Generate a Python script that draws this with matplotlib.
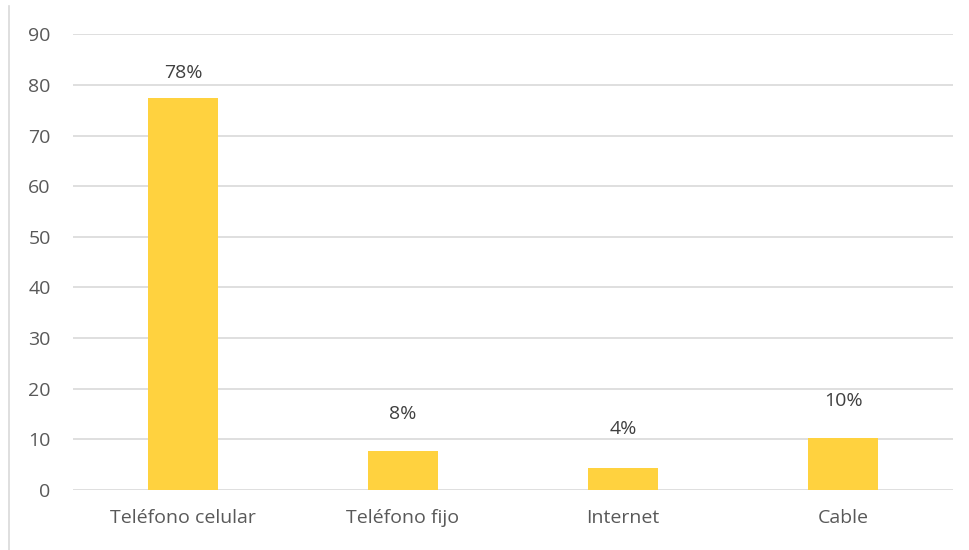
import matplotlib.pyplot as plt
import matplotlib.lines as mlines

# data
categories = ["Teléfono celular", "Teléfono fijo", "Internet", "Cable"]
values = [77.5, 7.6, 4.3, 10.2]
labels = ["78%", "8%", "4%", "10%"]
label_offsets = [18, 27, 28, 27]  # points above the bar top
yticks = [0, 10, 20, 30, 40, 50, 60, 70, 80, 90]

plt.rcParams['font.family'] = ['Open Sans', 'DejaVu Sans']

fig = plt.figure(figsize=(9.69, 5.5), dpi=100)
ax = fig.add_axes([0.0753, 0.1096, 0.9082, 0.828])

x = range(len(categories))
ax.bar(x, values, width=0.32, color="#FFD23F", zorder=3)

for i, (v, lab) in enumerate(zip(values, labels)):
    ax.annotate(lab, (i, v), xytext=(0, label_offsets[i]), textcoords="offset points",
                ha="center", va="center", fontsize=14, color="#404040")

ax.set_xlim(-0.5, len(categories) - 0.5)
ax.set_ylim(0, 90)
ax.set_yticks(yticks)
ax.set_xticks(list(x))
ax.set_xticklabels(categories)
ax.tick_params(axis="both", length=0, labelsize=14, colors="#595959")
ax.tick_params(axis="y", pad=16)
ax.tick_params(axis="x", pad=14)
ax.grid(axis="y", color="#D9D9D9", linewidth=1.2, zorder=0)
for s in ax.spines.values():
    s.set_visible(False)

# chart frame line on the left
fig.add_artist(mlines.Line2D([0.0095, 0.0095], [0, 0.99], color="#D9D9D9", linewidth=1.2))

fig.savefig("out.png", dpi=100)
